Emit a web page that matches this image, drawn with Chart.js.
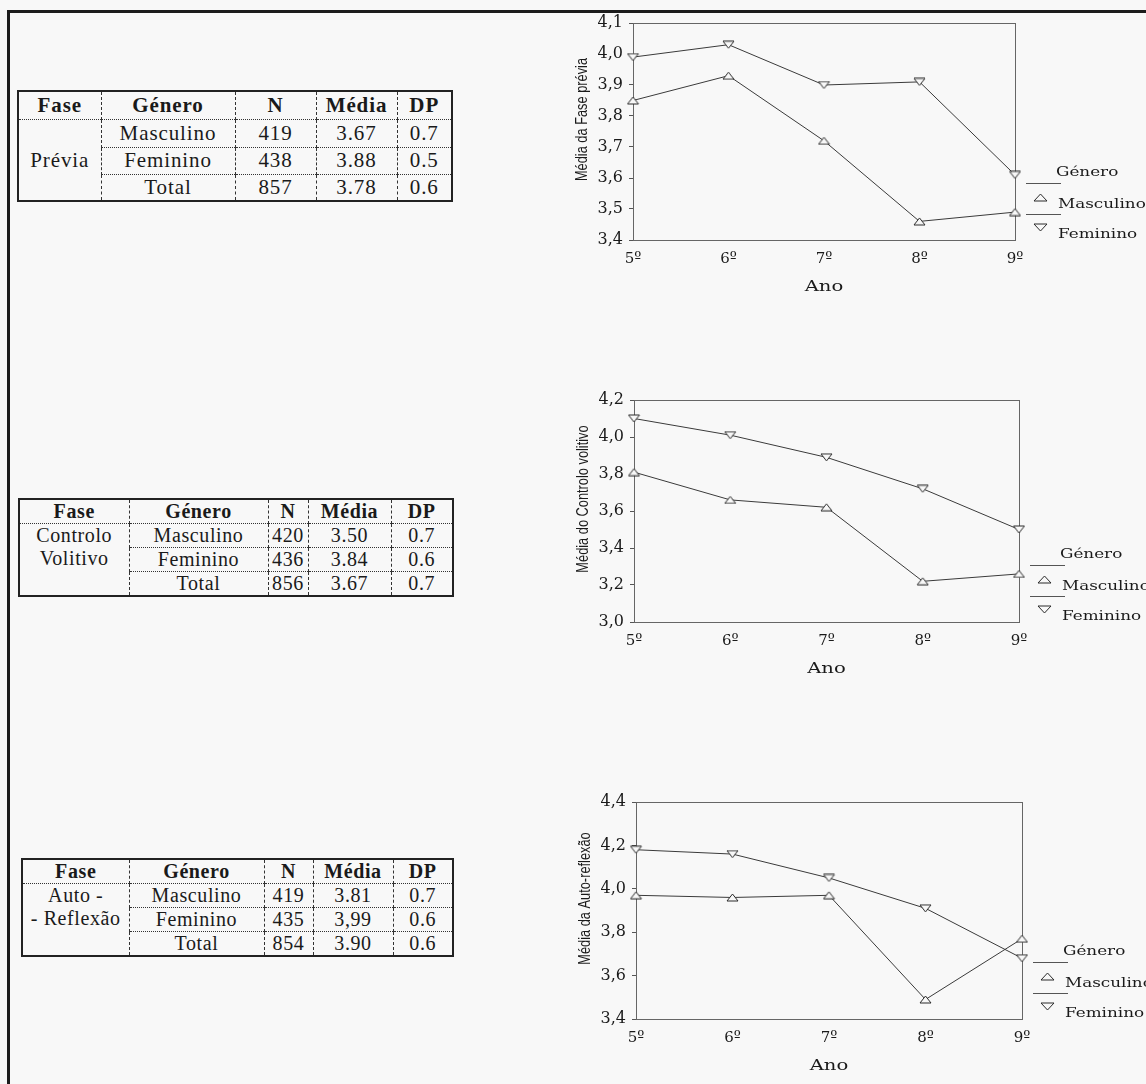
<!DOCTYPE html>
<html>
<head>
<meta charset="utf-8">
<script src="https://cdn.jsdelivr.net/npm/chart.js@4.4.1/dist/chart.umd.min.js"></script>
<style>
  html, body { margin: 0; padding: 0; }
  body { width: 1146px; height: 1084px; background: #f8f8f8; position: relative; overflow: hidden; }
  #frame { position: absolute; left: 7px; top: 10px; width: 1200px; height: 1200px;
           border-top: 3px solid #1c1c1c; border-left: 3px solid #1c1c1c; }
  canvas { position: absolute; }
  table.stat { position: absolute; border-collapse: collapse; table-layout: fixed;
               font-family: "Liberation Serif", "Times New Roman", serif; color: #1a1a1a;
               border: 2px solid #222; }
  table.stat td { padding: 0; text-align: center; vertical-align: middle; white-space: nowrap;
                  border-left: 1px dashed #333; border-top: 1px dotted #333; overflow: hidden; }
  table.stat td.first { border-left: none; }
  table.stat tr.head td { font-weight: bold; border-top: none; }
  table.stat td.fase { vertical-align: middle; }
  table.stat td.fase.two { vertical-align: top; }
</style>
</head>
<body>
<div id="frame"></div>
<div id="tables"></div>
<canvas id="c1" width="586" height="310" style="left:560px;top:0px;width:586px;height:310px"></canvas>
<canvas id="c2" width="586" height="310" style="left:560px;top:380px;width:586px;height:310px"></canvas>
<canvas id="c3" width="586" height="314" style="left:560px;top:770px;width:586px;height:314px"></canvas>
<script>
// ---------------- data ----------------
const years = ['5º', '6º', '7º', '8º', '9º'];
const seriesNames = ['Masculino', 'Feminino'];
const legendTitle = 'Género';
const xAxisTitle = 'Ano';

const previaMasc = [3.85, 3.93, 3.72, 3.46, 3.49];
const previaFem  = [3.99, 4.03, 3.90, 3.91, 3.61];
const previaTicks = ['3,4', '3,5', '3,6', '3,7', '3,8', '3,9', '4,0', '4,1'];
const previaTitle = 'Média da Fase prévia';

const volitivoMasc = [3.81, 3.66, 3.62, 3.22, 3.26];
const volitivoFem  = [4.10, 4.01, 3.89, 3.72, 3.50];
const volitivoTicks = ['3,0', '3,2', '3,4', '3,6', '3,8', '4,0', '4,2'];
const volitivoTitle = 'Média do Controlo volitivo';

const reflexaoMasc = [3.97, 3.96, 3.97, 3.49, 3.77];
const reflexaoFem  = [4.18, 4.16, 4.05, 3.91, 3.68];
const reflexaoTicks = ['3,4', '3,6', '3,8', '4,0', '4,2', '4,4'];
const reflexaoTitle = 'Média da Auto-reflexão';

// table contents
const tableHeader = ['Fase', 'Género', 'N', 'Média', 'DP'];
const rowLabels = ['Masculino', 'Feminino', 'Total'];
const previaFase = ['Prévia'];
const previaN = ['419', '438', '857'];
const previaMedia = ['3.67', '3.88', '3.78'];
const previaDP = ['0.7', '0.5', '0.6'];
const volitivoFase = ['Controlo', 'Volitivo'];
const volitivoN = ['420', '436', '856'];
const volitivoMedia = ['3.50', '3.84', '3.67'];
const volitivoDP = ['0.7', '0.6', '0.7'];
const reflexaoFase = ['Auto -', '- Reflexão'];
const reflexaoN = ['419', '435', '854'];
const reflexaoMedia = ['3.81', '3,99', '3.90'];
const reflexaoDP = ['0.7', '0.6', '0.6'];

// ---------------- tables ----------------
function buildTable(cfg) {
  const t = document.createElement('table');
  t.className = 'stat';
  t.style.left = cfg.left + 'px';
  t.style.top = cfg.top + 'px';
  t.style.fontSize = cfg.font + 'px';
  t.style.letterSpacing = cfg.ls + 'px';
  const cg = document.createElement('colgroup');
  cfg.cols.forEach(w => { const c = document.createElement('col'); c.style.width = w + 'px'; cg.appendChild(c); });
  t.appendChild(cg);
  const hr = document.createElement('tr');
  hr.className = 'head';
  hr.style.height = cfg.rows[0] + 'px';
  tableHeader.forEach((h, i) => { const td = document.createElement('td'); td.textContent = h; if (i === 0) td.className = 'first'; hr.appendChild(td); });
  t.appendChild(hr);
  for (let r = 0; r < 3; r++) {
    const tr = document.createElement('tr');
    tr.style.height = cfg.rows[r + 1] + 'px';
    if (r === 0) {
      const td = document.createElement('td');
      td.rowSpan = 3;
      td.className = 'first fase' + (cfg.fase.length > 1 ? ' two' : '');
      td.style.lineHeight = cfg.rows[1] + 'px';
      td.innerHTML = cfg.fase.join('<br>');
      tr.appendChild(td);
    }
    [rowLabels[r], cfg.n[r], cfg.media[r], cfg.dp[r]].forEach(v => {
      const td = document.createElement('td'); td.textContent = v; tr.appendChild(td);
    });
    t.appendChild(tr);
  }
  document.getElementById('tables').appendChild(t);
}
buildTable({ left: 17, top: 90, font: 21, ls: 0.9, cols: [83, 134, 81, 81, 55], rows: [28, 28, 27, 27],
             fase: previaFase, n: previaN, media: previaMedia, dp: previaDP });
buildTable({ left: 18, top: 498, font: 20, ls: 0.6, cols: [110, 139, 40, 83, 62], rows: [24, 23, 22, 23],
             fase: volitivoFase, n: volitivoN, media: volitivoMedia, dp: volitivoDP });
buildTable({ left: 21, top: 858, font: 20, ls: 0.6, cols: [107, 135, 49, 80, 60], rows: [22, 23, 23, 23],
             fase: reflexaoFase, n: reflexaoN, media: reflexaoMedia, dp: reflexaoDP });

// ---------------- markers ----------------
const BG = '#f8f8f8';
function triangle(up, w, h) {
  const c = document.createElement('canvas');
  c.width = w + 2; c.height = h + 2;
  const g = c.getContext('2d');
  g.beginPath();
  if (up) { g.moveTo(1 + w / 2, 1); g.lineTo(1 + w, 1 + h); g.lineTo(1, 1 + h); }
  else { g.moveTo(1, 1); g.lineTo(1 + w, 1); g.lineTo(1 + w / 2, 1 + h); }
  g.closePath();
  g.fillStyle = BG; g.fill();
  g.strokeStyle = '#2a2a2a'; g.lineWidth = 1; g.stroke();
  return c;
}
const upMark = triangle(true, 11, 7);
const downMark = triangle(false, 11, 7);
const upLegend = triangle(true, 13, 7);
const downLegend = triangle(false, 13, 7);

// ---------------- decoration plugin ----------------
function drawStretched(ctx, text, x, y, font, sx, align) {
  ctx.save();
  ctx.translate(x, y);
  ctx.scale(sx, 1);
  ctx.font = font;
  ctx.textAlign = align;
  ctx.textBaseline = 'middle';
  ctx.fillText(text, 0, 0);
  ctx.restore();
}
const deco = {
  id: 'deco',
  beforeDatasetsDraw(chart) {
    const { ctx, chartArea: a } = chart;
    ctx.save();
    ctx.strokeStyle = '#666';
    ctx.lineWidth = 1;
    ctx.strokeRect(Math.round(a.left) + 0.5, Math.round(a.top) + 0.5,
                   Math.round(a.right - a.left), Math.round(a.bottom - a.top));
    ctx.restore();
  },
  afterDraw(chart, args, opts) {
    const { ctx, chartArea: a } = chart;
    ctx.save();
    ctx.fillStyle = '#1a1a1a';
    // x title
    drawStretched(ctx, opts.xTitle, (a.left + a.right) / 2, a.bottom + 47, '14px "DejaVu Serif"', 1.4, 'center');
    // y title (rotated, condensed)
    ctx.save();
    ctx.translate(a.left - 50, (a.top + a.bottom) / 2 - 12);
    ctx.rotate(-Math.PI / 2);
    ctx.scale(0.8, 1);
    ctx.font = '16px "Liberation Sans", Arial, sans-serif';
    ctx.textAlign = 'center';
    ctx.textBaseline = 'middle';
    ctx.fillText(opts.yTitle, 0, 0);
    ctx.restore();
    // legend
    const lx = a.right, ly = a.bottom;
    drawStretched(ctx, opts.legendTitle, lx + 41, ly - 67, '12px "DejaVu Serif"', 1.4, 'left');
    chart.data.datasets.forEach((ds, i) => {
      ctx.strokeStyle = '#555';
      ctx.lineWidth = 1;
      ctx.beginPath();
      const yy = Math.round(ly - 57 + i * 31) + 0.5;
      ctx.moveTo(lx + 11, yy); ctx.lineTo(lx + 46, yy); ctx.stroke();
      const m = ds.legendMark;
      ctx.drawImage(m, Math.round(lx + 25 - m.width / 2), Math.round(ly - 43 + i * 30 - m.height / 2));
      ctx.fillStyle = '#1a1a1a';
      drawStretched(ctx, ds.label, lx + 43, ly - 35 + i * 30, '12px "DejaVu Serif"', 1.4, 'left');
    });
    ctx.restore();
  }
};

function makeChart(id, masc, fem, tickLabels, yTitle, min, max, step, box) {
  const tickValue = s => parseFloat(s.replace(',', '.'));
  return new Chart(document.getElementById(id), {
    type: 'line',
    data: {
      labels: years,
      datasets: [
        { label: seriesNames[0], data: masc, borderColor: '#3a3a3a', borderWidth: 1, tension: 0,
          pointStyle: upMark, pointRadius: 5, pointHoverRadius: 5, legendMark: upLegend },
        { label: seriesNames[1], data: fem, borderColor: '#3a3a3a', borderWidth: 1, tension: 0,
          pointStyle: downMark, pointRadius: 5, pointHoverRadius: 5, legendMark: downLegend }
      ]
    },
    options: {
      responsive: false,
      animation: false,
      events: [],
      layout: { padding: { left: 0, top: box.top, right: box.right, bottom: 0 } },
      plugins: {
        legend: { display: false },
        tooltip: { enabled: false },
        deco: { xTitle: xAxisTitle, yTitle: yTitle, legendTitle: legendTitle }
      },
      scales: {
        x: {
          type: 'category',
          offset: false,
          grid: { display: false },
          border: { display: false },
          ticks: { padding: 2, color: '#1a1a1a', font: { family: '"DejaVu Serif"', size: 15 }, maxRotation: 0, autoSkip: false },
          afterFit: s => { s.height = box.bottom; }
        },
        y: {
          min: min, max: max,
          grid: { display: true, drawOnChartArea: false, drawTicks: true, tickLength: 4, color: '#555' },
          border: { display: false },
          ticks: {
            stepSize: step, padding: 6, color: '#1a1a1a',
            font: { family: '"DejaVu Serif"', size: 16 },
            callback: v => { const l = tickLabels.find(t => Math.abs(tickValue(t) - v) < 1e-6); return l === undefined ? '' : l; }
          },
          afterFit: s => { s.width = box.left; }
        }
      }
    },
    plugins: [deco]
  });
}

makeChart('c1', previaMasc, previaFem, previaTicks, previaTitle, 3.4, 4.1, 0.1,
          { left: 73, right: 131, top: 23, bottom: 70 });
makeChart('c2', volitivoMasc, volitivoFem, volitivoTicks, volitivoTitle, 3.0, 4.2, 0.2,
          { left: 74, right: 127, top: 20, bottom: 68 });
makeChart('c3', reflexaoMasc, reflexaoFem, reflexaoTicks, reflexaoTitle, 3.4, 4.4, 0.2,
          { left: 76, right: 124, top: 32, bottom: 65 });
</script>
</body>
</html>
